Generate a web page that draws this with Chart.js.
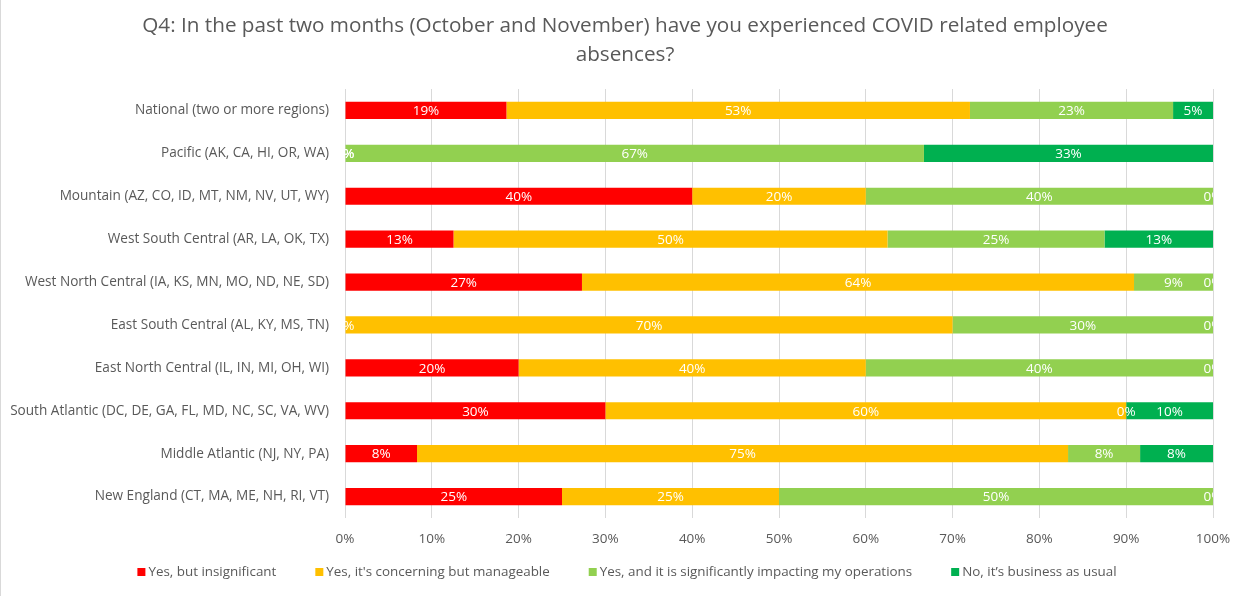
<!DOCTYPE html>
<html>
<head>
<meta charset="utf-8">
<script src="https://cdn.jsdelivr.net/npm/chart.js@4"></script>
<style>
  html, body { margin: 0; padding: 0; background: #fff; }
  #wrap { position: relative; width: 1247px; height: 596px; border-left: 1px solid #d9d9d9; box-sizing: border-box; }
  #wrap canvas { position: absolute; left: -1px; top: 0; }
</style>
</head>
<body>
<div id="wrap"><canvas id="barChart" width="1247" height="596"></canvas></div>
<script>
var regions = [
  "National (two or more regions)",
  "Pacific (AK, CA, HI, OR, WA)",
  "Mountain (AZ, CO, ID, MT, NM, NV, UT, WY)",
  "West South Central (AR, LA, OK, TX)",
  "West North Central (IA, KS, MN, MO, ND, NE, SD)",
  "East South Central (AL, KY, MS, TN)",
  "East North Central (IL, IN, MI, OH, WI)",
  "South Atlantic (DC, DE, GA, FL, MD, NC, SC, VA, WV)",
  "Middle Atlantic (NJ, NY, PA)",
  "New England (CT, MA, ME, NH, RI, VT)"
];
var insignificant = [18.6, 0, 40, 12.5, 27.3, 0, 20, 30, 8.3, 25];
var manageable    = [53.4, 0, 20, 50, 63.6, 70, 40, 60, 75, 25];
var impacting     = [23.4, 66.7, 40, 25, 9.1, 30, 40, 0, 8.3, 50];
var businessUsual = [4.6, 33.3, 0, 12.5, 0, 0, 0, 10, 8.4, 0];
var xTicks = [0, 10, 20, 30, 40, 50, 60, 70, 80, 90, 100];
var titleLines = ["Q4: In the past two months (October and November) have you experienced COVID related employee", "absences?"];

var FONT = "'Open Sans', 'Liberation Sans', sans-serif";
var GREY = "#595959";

// title centred on the whole picture, not on the padded box
var topTitle = {
  id: "topTitle",
  afterDraw: function(chart) {
    var ctx = chart.ctx;
    ctx.save();
    ctx.font = "20.7px " + FONT;
    ctx.fillStyle = GREY;
    ctx.textAlign = "center";
    ctx.textBaseline = "middle";
    titleLines.forEach(function(t, i) { ctx.fillText(t, 625, 26 + i * 29); });
    ctx.restore();
  }
};

// white % labels in the middle of each segment, clipped to the plot
var segLabels = {
  id: "segLabels",
  afterDatasetsDraw: function(chart) {
    var ctx = chart.ctx, a = chart.chartArea;
    ctx.save();
    ctx.beginPath();
    ctx.rect(a.left, a.top, a.right - a.left, a.bottom - a.top);
    ctx.clip();
    ctx.font = "13.5px " + FONT;
    ctx.fillStyle = "#fff";
    ctx.textAlign = "center";
    ctx.textBaseline = "middle";
    chart.data.datasets.forEach(function(ds, i) {
      chart.getDatasetMeta(i).data.forEach(function(bar, j) {
        var cx = (bar.x + bar.base) / 2;
        ctx.fillText(Math.round(ds.data[j]) + "%", cx, bar.y + 1);
      });
    });
    ctx.restore();
  }
};

// excel-like legend: small squares, wide gaps
var bottomLegend = {
  id: "bottomLegend",
  afterDraw: function(chart) {
    var ctx = chart.ctx;
    ctx.save();
    ctx.font = "13.4px " + FONT;
    ctx.textBaseline = "middle";
    ctx.textAlign = "left";
    var box = 8, gap = 3, between = 39;
    var items = chart.data.datasets.map(function(ds) {
      return { text: ds.label, color: ds.backgroundColor, w: box + gap + ctx.measureText(ds.label).width };
    });
    var total = items.reduce(function(s, it) { return s + it.w; }, 0) + between * (items.length - 1);
    var x = 627 - total / 2, y = 572;
    items.forEach(function(it) {
      ctx.fillStyle = it.color;
      ctx.fillRect(x, y - box / 2, box, box);
      ctx.fillStyle = GREY;
      ctx.fillText(it.text, x + box + gap, y);
      x += it.w + between;
    });
    ctx.restore();
  }
};

var ctx = document.getElementById("barChart").getContext("2d");
var chart = new Chart(ctx, {
  type: "bar",
  data: {
    labels: regions,
    datasets: [
      { label: "Yes, but insignificant", data: insignificant, backgroundColor: "#FF0000" },
      { label: "Yes, it's concerning but manageable", data: manageable, backgroundColor: "#FFC000" },
      { label: "Yes, and it is significantly impacting my operations", data: impacting, backgroundColor: "#92D050" },
      { label: "No, it\u2019s business as usual", data: businessUsual, backgroundColor: "#00B050" }
    ]
  },
  options: {
    indexAxis: "y",
    responsive: false,
    animation: false,
    datasets: { bar: { barPercentage: 0.8, categoryPercentage: 0.5, borderWidth: 0 } },
    layout: { padding: { left: 0, right: 34, top: 89, bottom: 41 } },
    plugins: {
      legend: { display: false },
      tooltip: { enabled: false },
      title: { display: false }
    },
    scales: {
      x: {
        stacked: true,
        min: 0,
        max: 100,
        afterBuildTicks: function(scale) { scale.ticks = xTicks.map(function(v) { return { value: v }; }); },
        afterFit: function(scale) { scale.height = 37; },
        grid: { color: "#D9D9D9", lineWidth: 1, drawTicks: false },
        border: { display: false },
        ticks: { color: GREY, padding: 13, font: { family: FONT, size: 13.5 }, callback: function(v) { return v + "%"; } }
      },
      y: {
        stacked: true,
        afterFit: function(scale) { scale.width = 345; },
        grid: { display: false, drawTicks: false },
        border: { display: false },
        ticks: { color: GREY, padding: 16, font: { family: FONT, size: 13.6 } }
      }
    }
  },
  plugins: [segLabels, bottomLegend, topTitle]
});
</script>
</body>
</html>
